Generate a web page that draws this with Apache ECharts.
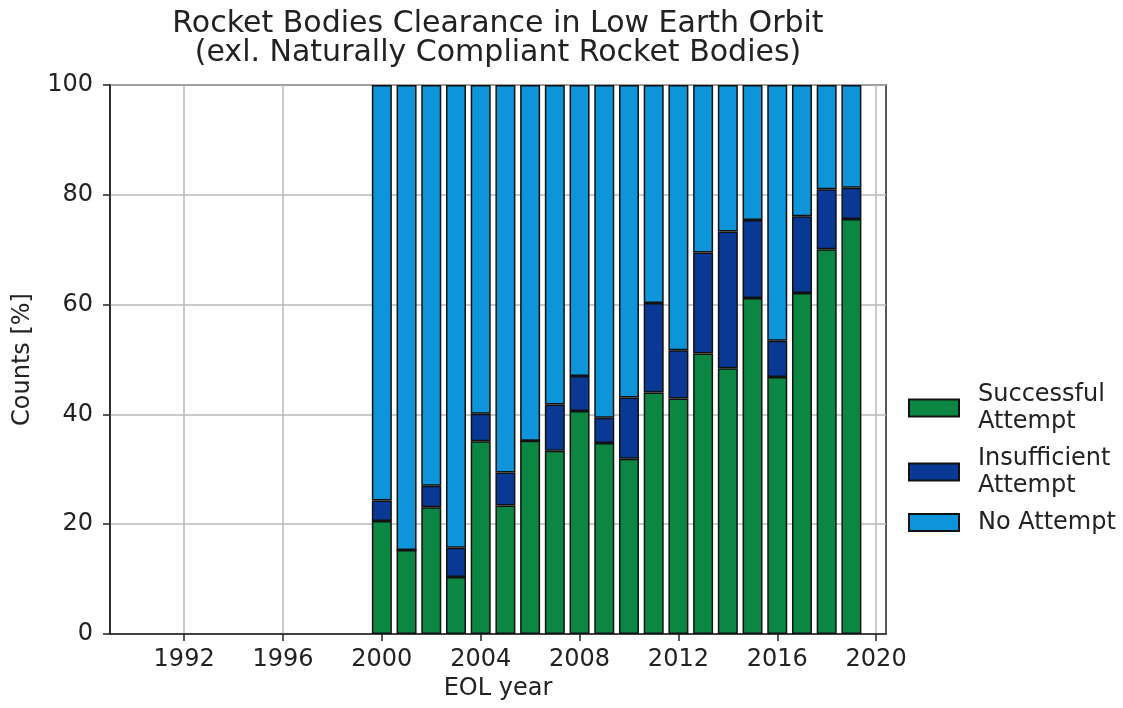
<!DOCTYPE html>
<html><head><meta charset="utf-8">
<script src="https://cdn.jsdelivr.net/npm/echarts@6/dist/echarts.min.js"></script>
<style>html,body{margin:0;padding:0;background:#fff}#c{width:1123px;height:708px}</style>
</head><body><div id="c"></div>
<script>
const years = [2000,2001,2002,2003,2004,2005,2006,2007,2008,2009,2010,2011,2012,2013,2014,2015,2016,2017,2018,2019];
const successful = [20.6,15.3,23.1,10.4,35.1,23.4,35.2,33.4,40.6,34.8,31.9,44.0,42.9,51.1,48.4,61.2,46.8,62.1,70.1,75.6];
const insufficient = [3.7,0,3.9,5.3,5.0,6.0,0,8.4,6.4,4.6,11.2,16.3,8.8,18.4,24.9,14.2,6.6,14.0,10.9,5.7];
const noAttempt = [75.7,84.7,73.0,84.3,59.9,70.6,64.8,58.2,53.0,60.6,56.9,39.7,48.3,30.5,26.7,24.6,46.6,23.9,19.0,18.7];
const xTicks = [1992,1996,2000,2004,2008,2012,2016,2020];
const seriesNames = ['Successful\nAttempt','Insufficient\nAttempt','No Attempt'];
const colors = ['#0b8743','#0a3895','#0e94d8'];

const FONT = 'DejaVu Sans';
const chart = echarts.init(document.getElementById('c'), null, {renderer:'canvas'});
function mk(name, vals, color){
  return {
    name: name, type:'bar', stack:'s', barWidth: 20,
    data: years.map((y,i)=>[vals[i], y]),
    encode:{x:1, y:0},
    itemStyle:{color: color, borderColor:'#111', borderWidth:1.5},
    emphasis:{disabled:true}
  };
}
chart.setOption({
  animation:false,
  backgroundColor:'#fff',
  title:{
    text:'Rocket Bodies Clearance in Low Earth Orbit\n(exl. Naturally Compliant Rocket Bodies)',
    left: 498, top: 10, textAlign:'center', padding:0,
    textStyle:{fontFamily:FONT, fontSize:30, fontWeight:'normal', color:'#222', lineHeight:29}
  },
  grid:{left:110, right:237, top:85, bottom:74, show:true, borderColor:'#222', borderWidth:1.5, backgroundColor:'transparent'},
  legend:{
    orient:'vertical', left:903, top:376, itemWidth:50, itemHeight:17, itemGap:10,
    icon:'rect',
    textStyle:{fontFamily:FONT, fontSize:24, color:'#222', lineHeight:27, padding:[0,0,0,14]},
    data: seriesNames
  },
  xAxis:{
    type:'value', min:1989, max:2020.4,
    name:'EOL year', nameLocation:'middle', nameGap:40,
    nameTextStyle:{fontFamily:FONT, fontSize:24, color:'#222'},
    axisLine:{show:true, lineStyle:{color:'#222', width:1.5}},
    axisTick:{show:true, length:7, customValues:xTicks, lineStyle:{color:'#222', width:1.5}},
    axisLabel:{customValues:xTicks, fontFamily:FONT, fontSize:24, color:'#222', margin:14, formatter:(v)=>String(v)},
    splitLine:{show:true, lineStyle:{color:'#b8b8b8', width:1.5}}
  },
  yAxis:{
    type:'value', min:0, max:100, interval:20,
    name:'Counts [%]', nameLocation:'middle', nameGap:75,
    nameTextStyle:{fontFamily:FONT, fontSize:24, color:'#222'},
    axisLine:{show:true, lineStyle:{color:'#222', width:1.5}},
    axisTick:{show:true, length:7, lineStyle:{color:'#222', width:1.5}},
    axisLabel:{fontFamily:FONT, fontSize:24, color:'#222', margin:17},
    splitLine:{show:true, lineStyle:{color:'#b8b8b8', width:1.5}}
  },
  series:[
    mk(seriesNames[0], successful, colors[0]),
    mk(seriesNames[1], insufficient, colors[1]),
    mk(seriesNames[2], noAttempt, colors[2])
  ]
});
</script></body></html>
